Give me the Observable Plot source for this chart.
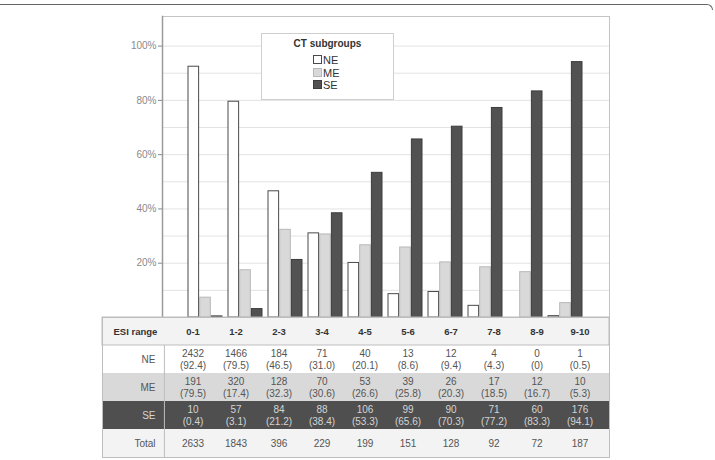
<!DOCTYPE html>
<html><head><meta charset="utf-8">
<script src="https://cdn.jsdelivr.net/npm/d3@7"></script>
<script src="https://cdn.jsdelivr.net/npm/@observablehq/plot@0.6"></script>
<style>
body{margin:0;background:#fff;font-family:"Liberation Sans",Arial,sans-serif;}
#wrap{position:relative;width:715px;height:460px;overflow:hidden;background:#fff;}
#topline{position:absolute;left:-10px;top:4px;width:722px;height:5px;border-top:1.5px solid #666;border-right:1.5px solid #666;border-top-right-radius:8px;}
#chart{position:absolute;left:102px;top:16px;}
#table{position:absolute;left:102px;top:317px;}
#legend{position:absolute;left:261px;top:33px;width:131px;height:65px;border:1px solid #cfcfcf;background:#fff;}
#legend .title{position:absolute;left:0;right:0;top:4px;text-align:center;font-weight:bold;font-size:10px;color:#333;}
#legend .item{position:absolute;left:51px;height:12px;font-size:11px;line-height:12px;color:#333;white-space:nowrap;}
#legend .sw{position:absolute;left:0;top:1px;width:9px;height:9px;box-sizing:border-box;}
#legend .lab{position:absolute;left:10px;top:0;}
</style></head>
<body>
<div id="wrap">
  <div id="topline"></div>
  <div id="chart"></div>
  <div id="table"></div>
  <div id="legend"><div class="title">CT subgroups</div></div>
</div>
<script>
// ---- data ----
const categories = ["0-1","1-2","2-3","3-4","4-5","5-6","6-7","7-8","8-9","9-10"];
const seriesNames = ["NE","ME","SE"];
const nePct = [92.4,79.5,46.5,31.0,20.1,8.6,9.4,4.3,0,0.5];
const mePct = [7.3,17.4,32.3,30.6,26.6,25.8,20.3,18.5,16.7,5.3];
const sePct = [0.4,3.1,21.2,38.4,53.3,65.6,70.3,77.2,83.3,94.1];
const neCount = [2432,1466,184,71,40,13,12,4,0,1];
const meCount = [191,320,128,70,53,39,26,17,12,10];
const seCount = [10,57,84,88,106,99,90,71,60,176];
const totalCount = [2633,1843,396,229,199,151,128,92,72,187];
const nePctLabel = ["92.4","79.5","46.5","31.0","20.1","8.6","9.4","4.3","0","0.5"];
const mePctLabel = ["79.5","17.4","32.3","30.6","26.6","25.8","20.3","18.5","16.7","5.3"];
const sePctLabel = ["0.4","3.1","21.2","38.4","53.3","65.6","70.3","77.2","83.3","94.1"];
const yTicks = [20,40,60,80,100];
const yGrid = [10,20,30,40,50,60,70,80,90,100];
const tableRows = ["ESI range","NE","ME","SE","Total"];
const yMax = 110.9;

// ---- styles ----
const barStyle = {
  NE:{fill:"#ffffff",stroke:"#4a4a4a"},
  ME:{fill:"#d9d9d9",stroke:"#b8b8b8"},
  SE:{fill:"#525252",stroke:"#3c3c3c"}
};
const rowFill = ["#f3f3f3","#ffffff","#d9d9d9","#4f4f4f","#f3f3f3"];
const font = {fontFamily:"'Liberation Sans', Arial, sans-serif", fontSize:"10px", background:"transparent", overflow:"visible"};

// ---- chart ----
const barData = categories.map((c,i)=>({cat:c, NE:nePct[i], ME:mePct[i], SE:sePct[i]}));
const W = 507, ML = 60, H = 301;
const padIn = 0.14, padOut = 0.55;
const step = (W-ML)/(categories.length - padIn + 2*padOut);
const bw = step*(1-padIn);
const third = bw/3;

const chart = Plot.plot({
  width:W, height:H, marginLeft:ML, marginRight:0, marginTop:0, marginBottom:0,
  style:font,
  x:{type:"band", domain:categories, paddingInner:padIn, paddingOuter:padOut, axis:null},
  y:{domain:[0,yMax], axis:null},
  marks:[
    Plot.ruleY(yGrid,{stroke:"#e3e3e3"}),
    ...seriesNames.map((s,k)=>Plot.barY(barData,{
      x:"cat", y:s, fill:barStyle[s].fill, stroke:barStyle[s].stroke,
      insetLeft:k*third, insetRight:(2-k)*third
    })),
    Plot.frame({stroke:"#c4c4c4"}),
    Plot.frame({anchor:"left", stroke:"#9a9a9a", strokeWidth:1.5}),
    Plot.axisY(yTicks,{tickFormat:d=>d+"%", tickSize:4, tickPadding:2, color:"#8a8a8a", fontSize:10})
  ]
});
document.getElementById("chart").appendChild(chart);

// ---- table ----
const TW = 507, TH = 140, TL = 60;
const tPadOut = 0.16;
const tStep = (TW-TL)/(categories.length + 2*tPadOut);
const header = categories.map(c=>({cat:c,row:"ESI range",text:c}));
const body = [];
categories.forEach((c,i)=>{
  body.push({cat:c,row:"NE",text:`${neCount[i]}\n(${nePctLabel[i]})`});
  body.push({cat:c,row:"ME",text:`${meCount[i]}\n(${mePctLabel[i]})`});
  body.push({cat:c,row:"SE",text:`${seCount[i]}\n(${sePctLabel[i]})`});
  body.push({cat:c,row:"Total",text:`${totalCount[i]}`});
});
const table = Plot.plot({
  width:TW, height:TH, marginLeft:0, marginRight:0, marginTop:0, marginBottom:0,
  style:font,
  color:{type:"identity"},
  x:{type:"band", domain:categories, range:[TL,TW], paddingInner:0, paddingOuter:tPadOut, axis:null},
  y:{type:"band", domain:tableRows, padding:0, axis:null},
  marks:[
    Plot.cell(tableRows,{y:d=>d, fill:(d,i)=>rowFill[i], inset:0}),
    Plot.cell([tableRows[0]],{y:d=>d, fill:"none", stroke:"#bdbdbd", inset:0}),
    Plot.ruleX([categories[0]],{dx:-(tPadOut*tStep + tStep/2), insetTop:TH/tableRows.length, stroke:"#bdbdbd"}),
    Plot.frame({stroke:"#bdbdbd"}),
    Plot.text(header,{x:"cat", y:"row", text:"text", fontWeight:"bold", fill:"#333", fontSize:9.5}),
    Plot.text(body.filter(d=>d.row!=="SE"),{x:"cat", y:"row", text:"text", fill:"#555", fontSize:10, lineHeight:1.12}),
    Plot.text(body.filter(d=>d.row==="SE"),{x:"cat", y:"row", text:"text", fill:"#d4d4d4", fontSize:10, lineHeight:1.12}),
    Plot.text([tableRows[0]],{y:d=>d, text:d=>d, frameAnchor:"left", dx:11, textAnchor:"start", fontWeight:"bold", fill:"#333", fontSize:9.5}),
    Plot.text(tableRows.slice(1).filter(r=>r!=="SE"),{y:d=>d, text:d=>d, frameAnchor:"left", dx:53, textAnchor:"end", fill:"#555", fontSize:10}),
    Plot.text(["SE"],{y:d=>d, text:d=>d, frameAnchor:"left", dx:53, textAnchor:"end", fill:"#d4d4d4", fontSize:10})
  ]
});
document.getElementById("table").appendChild(table);

// ---- legend ----
const legend = document.getElementById("legend");
seriesNames.forEach((s,k)=>{
  const it = document.createElement("div");
  it.className = "item";
  it.style.top = (20 + k*12.5) + "px";
  const sw = document.createElement("span");
  sw.className = "sw";
  sw.style.background = barStyle[s].fill;
  sw.style.border = "1px solid " + barStyle[s].stroke;
  const lab = document.createElement("span");
  lab.className = "lab";
  lab.textContent = s;
  it.appendChild(sw); it.appendChild(lab);
  legend.appendChild(it);
});
</script>
</body></html>
